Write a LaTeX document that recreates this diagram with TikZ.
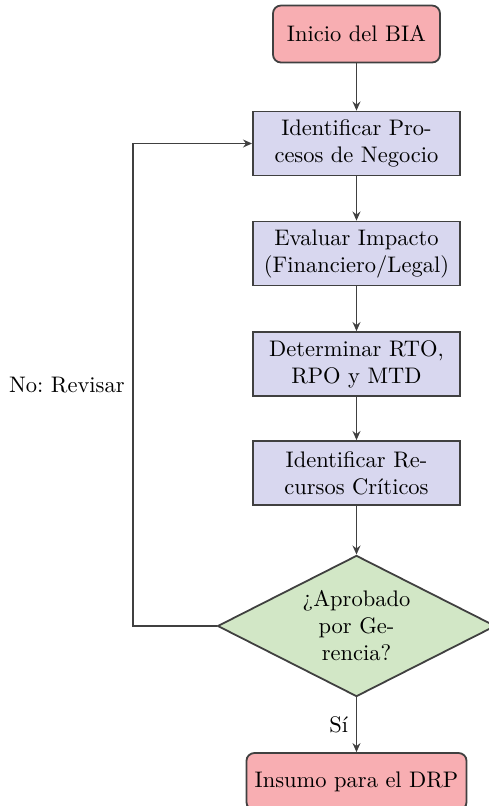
\documentclass[tikz,border=0pt]{standalone}
\usetikzlibrary{shapes.geometric,arrows.meta}
\definecolor{startred}{HTML}{F8AEB2}
\definecolor{proclav}{HTML}{D8D7EF}
\definecolor{decgreen}{HTML}{D2E7C6}
\definecolor{linegray}{HTML}{404040}
\tikzset{
  terminal/.style={draw=linegray, thick, fill=startred, rounded corners=3.5pt, align=center},
  procbox/.style={draw=linegray, thick, fill=proclav, text width=3cm, align=center, minimum height=1cm},
  decision/.style={draw=linegray, thick, fill=decgreen, diamond, aspect=1.9, inner sep=0pt, align=center, minimum width=123.5pt, minimum height=62.7pt},
  arr/.style={draw=linegray, thick, -{Stealth[length=4pt,width=3.5pt]}},
}
\frenchspacing
\begin{document}
\begin{tikzpicture}[x=0.4444pt, y=-0.4444pt]
\useasboundingbox (0,0) rectangle (488,806);
\node[terminal, minimum width=74.2pt, minimum height=25.3pt] (start) at (356.5,34) {Inicio del BIA};
\node[procbox] (p1) at (356.5,143.5) {Identificar Pro-\\cesos de Negocio};
\node[procbox] (p2) at (356.5,253.5) {Evaluar Impacto\\(Financiero/Legal)};
\node[procbox] (p3) at (356.5,364) {Determinar RTO,\\RPO y MTD};
\node[procbox] (p4) at (356.5,473) {Identificar Re-\\cursos Críticos};
\node[decision] (dec) at (356.5,626) {¿Aprobado\\por Ge-\\rencia?};
\node[terminal, minimum width=97.8pt, minimum height=25.3pt] (end) at (356.5,781.5) {Insumo para el DRP};
\coordinate (lp) at (133,626);
\draw[arr] (start) -- (p1);
\draw[arr] (p1) -- (p2);
\draw[arr] (p2) -- (p3);
\draw[arr] (p3) -- (p4);
\draw[arr] (p4) -- (dec);
\draw[arr] (dec) -- node[left] {Sí} (end);
\draw[arr] (dec.west) -- (lp) |- node[pos=0.25, left] {No: Revisar} (p1.west);
\end{tikzpicture}
\end{document}
